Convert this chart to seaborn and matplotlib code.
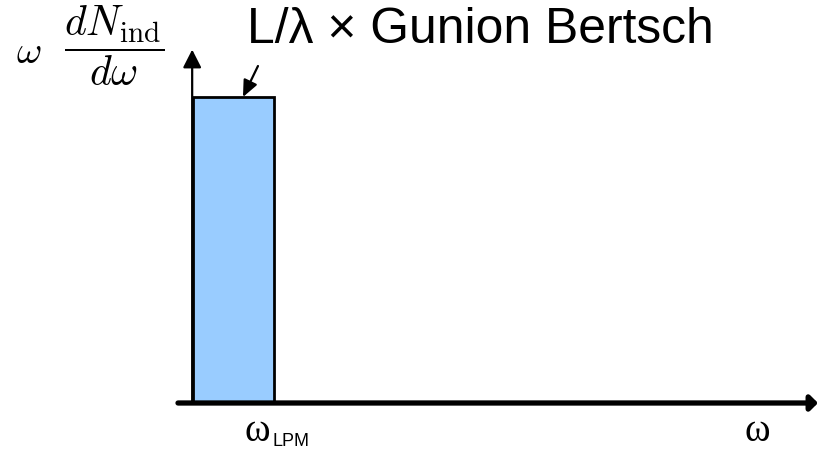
import matplotlib
matplotlib.use("Agg")
import matplotlib.pyplot as plt
import seaborn as sns

# ---- data (schematic) ----
omega_lpm = [1.0]          # upper edge of the bar (omega_LPM), omega units
gb_level = [1.0]           # height of the L/lambda x Gunion-Bertsch plateau
bar_centers = [0.5]
omega_max = 7.716
y_max = 1.17
title_text = "L/\u03bb \u00d7 Gunion Bertsch"
ylabel_omega = r"$\omega$"
ylabel_frac = r"$\dfrac{dN_{\rm ind}}{d\omega}$"

sns.set_style("white")
plt.rcParams["mathtext.fontset"] = "cm"
plt.rcParams["text.color"] = "black"

W, H = 819, 459
fig = plt.figure(figsize=(W / 100, H / 100), dpi=100)
ax = fig.add_axes([178 / W, 1 - 403 / H, 640 / W, 358 / H])

sns.histplot(x=bar_centers, weights=gb_level, bins=[0.0, omega_lpm[0]],
             color="#99CCFF", edgecolor="black", linewidth=2.0, alpha=1.0,
             ax=ax, legend=False)

ax.set_xlim(-0.185, omega_max)
ax.set_ylim(0, y_max)
ax.set_axis_off()

# axes drawn as arrows
ax.annotate("", xy=(-0.01, 1.155), xycoords="data", xytext=(-0.01, 0),
            textcoords="data",
            arrowprops=dict(arrowstyle="-|>,head_length=0.55,head_width=0.28",
                            mutation_scale=20, lw=1.6, color="black",
                            shrinkA=0, shrinkB=0))
ax.annotate("", xy=(1.0, 0), xycoords="axes fraction", xytext=(0.0, 0),
            textcoords="axes fraction",
            arrowprops=dict(arrowstyle="-|>,head_length=0.22,head_width=0.22",
                            mutation_scale=20, lw=3.8, color="black",
                            shrinkA=0, shrinkB=0))

# pointer from label to bar top
ax.annotate("", xy=(0.617, gb_level[0]), xycoords="data",
            xytext=(15, 31), textcoords="offset pixels",
            arrowprops=dict(arrowstyle="-|>,head_length=0.5,head_width=0.22",
                            mutation_scale=20, lw=1.6, color="black",
                            shrinkA=0, shrinkB=0))

fig.text(247 / W, 1 - 43 / H, title_text, fontsize=35.8, color="black",
         family=["Liberation Sans", "DejaVu Sans"], ha="left", va="baseline")
fig.text(16 / W, 1 - 63 / H, ylabel_omega, fontsize=28, color="black",
         ha="left", va="baseline")
fig.text(64 / W, 1 - 46 / H, ylabel_frac, fontsize=30, color="black",
         ha="left", va="center")

fig.text(244 / W, 1 - 441 / H, "\u03c9", fontsize=28, color="black",
         family=["Liberation Serif", "DejaVu Serif"], ha="left", va="baseline")
fig.text(273 / W, 1 - 446 / H, "LPM", fontsize=13, color="black",
         family=["Liberation Sans", "DejaVu Sans"], ha="left", va="baseline")
fig.text(745 / W, 1 - 441 / H, "\u03c9", fontsize=28, color="black",
         family=["Liberation Serif", "DejaVu Serif"], ha="left", va="baseline")

fig.savefig("out.png", dpi=100)
